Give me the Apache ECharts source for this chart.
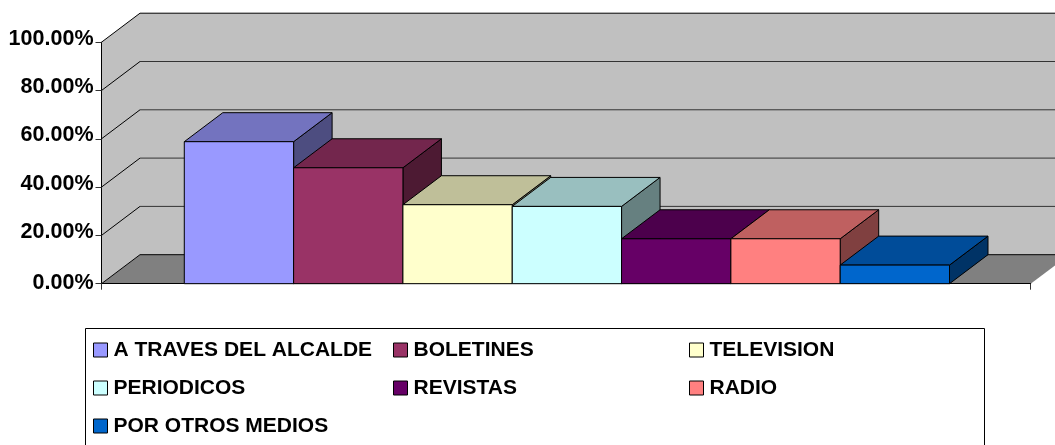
<!DOCTYPE html>
<html><head><meta charset="utf-8">
<style>html,body{margin:0;padding:0;background:#fff}#c{width:1055px;height:445px}</style>
<script src="https://cdn.jsdelivr.net/npm/echarts@6/dist/echarts.min.js"></script>
</head><body><div id="c"></div>
<script>
const category = ['Medios'];
const seriesNames = ['A TRAVES DEL ALCALDE','BOLETINES','TELEVISION','PERIODICOS','REVISTAS','RADIO','POR OTROS MEDIOS'];
const seriesValues = [58.8,48.0,32.7,32.0,18.6,18.6,7.7];
const yTicks = [0,20,40,60,80,100];
const frontColors = ['#9999FF','#993366','#FFFFCC','#CCFFFF','#660066','#FF8080','#0066CC'];
const topColors   = ['#7373BF','#73264D','#BFBF99','#99BFBF','#4C004C','#BF6060','#004C99'];
const sideColors  = ['#4D4D80','#4D1A33','#808066','#668080','#330033','#804040','#003366'];
const legendCols = [[0,3,6],[1,4],[2,5]];
const legendLeft = [93,393,689];

const DX = 38.5, DY = -29;      // depth of the 3D projection, px
const GAP_WIDTH = 1.5;          // gap between clusters, in bar widths
const BAR_SHIFT = 0.8;          // small horizontal nudge of the cluster, px

function poly(points, fill, stroke, lw){
  return {type:'polygon', shape:{points}, style:{fill, stroke: stroke||null, lineWidth: lw||1}, silent:true};
}
function line(a,b,stroke){
  return {type:'line', shape:{x1:a[0],y1:a[1],x2:b[0],y2:b[1]}, style:{stroke,lineWidth:1}, silent:true};
}
function renderWall(params, api){
  const v = api.value(1);
  const size = api.size([1,0])[0];
  const c = api.coord([0,v]);
  const x0 = c[0]-size/2, x1 = c[0]+size/2;
  const kids = [];
  if (v === yTicks[0]){
    const top = api.coord([0,yTicks[yTicks.length-1]])[1];
    kids.push(poly([[x0+DX,top+DY],[x1+DX,top+DY],[x1+DX,c[1]+DY],[x0+DX,c[1]+DY]],'#C0C0C0'));
    kids.push(poly([[x0,top],[x0+DX,top+DY],[x0+DX,c[1]+DY],[x0,c[1]]],'#C0C0C0'));
    kids.push(poly([[x0,c[1]],[x1,c[1]],[x1+DX,c[1]+DY],[x0+DX,c[1]+DY]],'#808080'));
  }
  const color = (v === yTicks[yTicks.length-1] || v === yTicks[0]) ? '#000000' : '#333333';
  kids.push(line([x0,c[1]],[x0+DX,c[1]+DY],'#000000'));
  kids.push(line([x0+DX,c[1]+DY],[x1+DX,c[1]+DY],color));
  return {type:'group',children:kids};
}
function renderBar(params, api){
  const i = params.seriesIndex-1;
  const size = api.size([1,0])[0];
  const w = size/(seriesValues.length+GAP_WIDTH);
  const c0 = api.coord([0,0]);
  const c = api.coord([0,api.value(1)]);
  const l = c0[0]+BAR_SHIFT+(i-(seriesValues.length-1)/2-0.5)*w, r = l+w;
  const b = c0[1], t = c[1];
  const S='#000000';
  return {type:'group',children:[
    poly([[r,b],[r+DX,b+DY],[r+DX,t+DY],[r,t]],sideColors[i],S),
    poly([[l,t],[r,t],[r+DX,t+DY],[l+DX,t+DY]],topColors[i],S),
    poly([[l,b],[r,b],[r,t],[l,t]],frontColors[i],S)
  ]};
}
const series = [{
  type:'custom', name:'wall', silent:true, z:1, clip:false,
  data: yTicks.map(v=>[0,v]), renderItem: renderWall
}].concat(seriesNames.map((n,i)=>({
  type:'custom', name:n, z:10+i, clip:false, silent:true,
  itemStyle:{color:frontColors[i]},
  data:[[0,seriesValues[i]]], renderItem:renderBar
})));
const font = 'Liberation Sans';
const chart = echarts.init(document.getElementById('c'),null,{renderer:'canvas'});
chart.setOption({
  animation:false,
  backgroundColor:'#ffffff',
  grid:{left:101.5,right:24.3,top:42.2,bottom:161.3,containLabel:false},
  xAxis:{type:'category',data:category,z:5,
    axisLine:{lineStyle:{color:'#000',width:1}},
    axisTick:{show:true,length:6,lineStyle:{color:'#333'}},axisLabel:{show:false},splitLine:{show:false}},
  yAxis:{type:'value',min:0,max:100,interval:20,z:5,
    axisLine:{show:true,lineStyle:{color:'#000',width:1}},
    axisTick:{show:true,length:6,lineStyle:{color:'#333'}},
    splitLine:{show:false},
    axisLabel:{margin:8,color:'#000',fontFamily:font,fontWeight:'bold',fontSize:21.5,
      formatter:v=>(v===0?'{z|':'{a|')+v.toFixed(2)+'%}',
      rich:{
        a:{fontFamily:font,fontWeight:'bold',fontSize:21.5,color:'#000',padding:[0,0,7,0]},
        z:{fontFamily:font,fontWeight:'bold',fontSize:21.5,color:'#000',padding:[0,0,1,0]}
      }}},
  legend:legendCols.map((col,k)=>({
    data:col.map(i=>seriesNames[i]),orient:'vertical',left:legendLeft[k],top:338,padding:0,
    itemWidth:14,itemHeight:14,itemGap:14,selectedMode:false,icon:'rect',
    itemStyle:{borderColor:'#000',borderWidth:1},
    textStyle:{color:'#000',fontFamily:font,fontWeight:'bold',fontSize:21,lineHeight:24,padding:[0,0,0,1]}
  })),
  graphic:[{type:'rect',z:-1,shape:{x:85.5,y:328.5,width:899,height:130},style:{fill:'#fff',stroke:'#000',lineWidth:1},silent:true}],
  series
});
</script></body></html>
